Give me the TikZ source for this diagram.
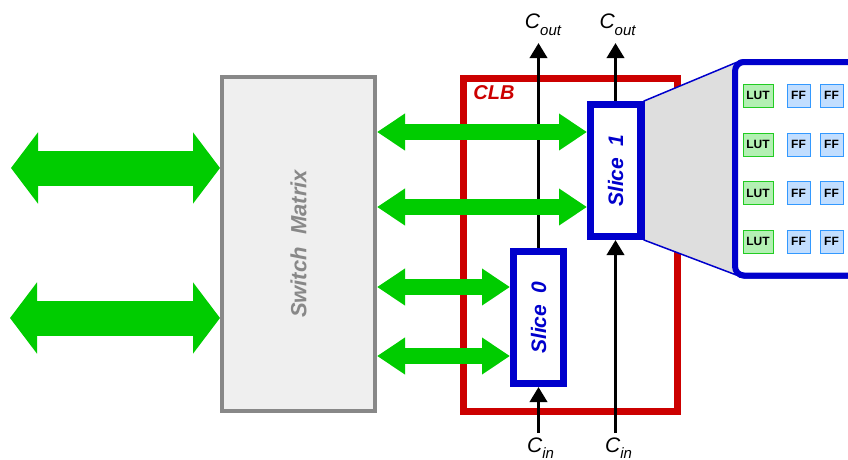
\documentclass[tikz,border=0pt]{standalone}
\usepackage{fontspec}
\setmainfont{Liberation Sans}
\usetikzlibrary{arrows.meta,calc}
\definecolor{gbar}{HTML}{00CC00}
\definecolor{sblue}{HTML}{0000CC}
\definecolor{cred}{HTML}{CC0000}
\definecolor{smgray}{HTML}{888888}
\definecolor{smfill}{HTML}{EFEFEF}
\definecolor{lutfill}{HTML}{B3F0B3}
\definecolor{lutdraw}{HTML}{22CC22}
\definecolor{fffill}{HTML}{C2DEFF}
\definecolor{ffdraw}{HTML}{3399FF}
\begin{document}
\begin{tikzpicture}[x=1pt,y=-1pt,
  smbox/.style={draw=smgray,fill=smfill,line width=4pt,minimum width=153pt,minimum height=334pt,inner sep=0pt},
  clbbox/.style={draw=cred,line width=7pt,minimum width=214pt,minimum height=333.5pt,inner sep=0pt},
  slicebox/.style={draw=sblue,fill=white,line width=7pt,minimum width=50pt,minimum height=132pt,inner sep=0pt},
  zoombox/.style={draw=sblue,fill=white,line width=6pt,rounded corners=9pt,minimum width=150pt,minimum height=213.5pt,inner sep=0pt,outer sep=0pt},
  lutbox/.style={draw=lutdraw,fill=lutfill,line width=1pt,minimum width=30pt,minimum height=23pt,inner sep=0pt,font=\fontsize{12}{12}\selectfont\bfseries},
  ffbox/.style={draw=ffdraw,fill=fffill,line width=1pt,minimum width=23pt,minimum height=23pt,inner sep=0pt,font=\fontsize{12}{12}\selectfont\bfseries},
  bigarrow/.style={draw=gbar,line width=35pt,{Triangle[width=70pt,length=27pt]}-{Triangle[width=70pt,length=27pt]}},
  smallarrow/.style={draw=gbar,line width=16pt,{Triangle[width=35pt,length=28pt]}-{Triangle[width=35pt,length=28pt]}},
  carry/.style={draw=black,line width=3.5pt,-{Triangle[width=17pt,length=15pt]}},
  carrylabel/.style={font=\fontsize{21}{24}\selectfont\itshape,inner sep=0pt},
  slicetext/.style={rotate=90,text=sblue,font=\fontsize{21}{24}\selectfont\bfseries\itshape},
]
\clip (0,0) rectangle (848,459);
\fill[white] (0,0) rectangle (848,459);

% switch matrix
\node[smbox] (sm) at (298.5,244) {};
\node[rotate=90,text=smgray,font=\fontsize{22}{24}\selectfont\bfseries\itshape] (smtext) at (sm.center) {Switch\ \ Matrix};

% CLB
\node[clbbox] (clb) at (570.5,244.75) {};
\node[text=cred,font=\fontsize{20}{22}\selectfont\bfseries\itshape,inner sep=0pt] (clbtext) at (494,93) {CLB};

% slice nodes (positions for connectors)
\path (538.5,317.5) node[slicebox,draw=none,fill=none] (s0) {};
\path (615.5,170.5) node[slicebox,draw=none,fill=none] (s1) {};

% carry lines
\coordinate (co0) at (538.5,43);
\coordinate (co1) at (615.5,43);
\coordinate (ci0) at (538.5,433);
\coordinate (ci1) at (615.5,433);
\draw[carry] (s0.north) -- (co0);
\draw[carry] (s1.north) -- (co1);
\draw[carry] (ci0) -- (s0.south);
\draw[carry] (ci1) -- (s1.south);
\node[carrylabel] (lco0) at (543,25) {C\raisebox{-7pt}{\fontsize{15}{15}\selectfont out}};
\node[carrylabel] (lco1) at (617.5,25) {C\raisebox{-7pt}{\fontsize{15}{15}\selectfont out}};
\node[carrylabel] (lci0) at (540.5,448.5) {C\raisebox{-6pt}{\fontsize{15}{15}\selectfont in}};
\node[carrylabel] (lci1) at (618.5,448.5) {C\raisebox{-6pt}{\fontsize{15}{15}\selectfont in}};

% zoom box and trapezoid
\node[zoombox] (zbox) at (810,168.75) {};
\filldraw[fill=black!13,draw=sblue,line width=1.5pt] (s1.north east) -- ($(zbox.north west)+(0,1)$) -- ($(zbox.south west)+(0,-1)$) -- (s1.south east) -- cycle;
\node[zoombox] (zboxfront) at (zbox.center) {};
\foreach \i/\y in {1/95.5,2/144.5,3/193,4/241.5}{
  \node[lutbox] (lut\i) at (758,\y) {LUT};
  \node[ffbox] (ffa\i) at (798.5,\y) {FF};
  \node[ffbox] (ffb\i) at (831.5,\y) {FF};
}

% green arrows
\coordinate (bl1) at (11,168);
\coordinate (bl2) at (10,318);
\draw[bigarrow] (bl1) -- (sm.west |- bl1);
\draw[bigarrow] (bl2) -- (sm.west |- bl2);
\draw[smallarrow] (sm.east |- 0,132) -- (s1.west |- 0,132);
\draw[smallarrow] (sm.east |- 0,207) -- (s1.west |- 0,207);
\draw[smallarrow] (sm.east |- 0,287) -- (s0.west |- 0,287);
\draw[smallarrow] (sm.east |- 0,356) -- (s0.west |- 0,356);

% slices
\node[slicebox] (slice0) at (s0.center) {};
\node[slicetext] (t0) at (s0.center) {Slice\ \ 0};
\node[slicebox] (slice1) at (s1.center) {};
\node[slicetext] (t1) at (s1.center) {Slice\ \ 1};
\end{tikzpicture}
\end{document}
